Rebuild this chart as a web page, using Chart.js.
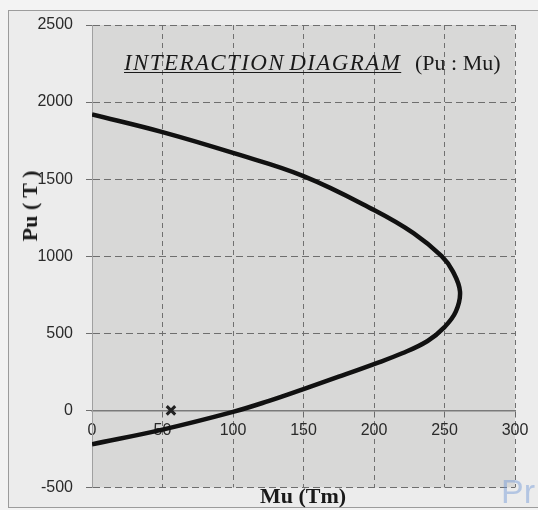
<!DOCTYPE html>
<html>
<head>
<meta charset="utf-8">
<script src="https://cdn.jsdelivr.net/npm/chart.js@4"></script>
<style>
  html, body { margin: 0; padding: 0; }
  body { width: 538px; height: 510px; background: #f3f3f3; position: relative; overflow: hidden; }
  #frame { position: absolute; left: 8px; top: 10px; width: 560px; height: 496px; border: 1px solid #9c9c9c; background: #ececec; }
  #wrap { position: absolute; left: 0; top: 0; width: 538px; height: 510px; }
  .txt { position: absolute; font-family: "Liberation Serif", serif; font-size: 22px; line-height: 22px; color: #1a1a1a; white-space: nowrap; }
  #title { left: 124px; top: 52px; }
  #title .main { font-style: italic; font-size: 23px; text-decoration: underline; text-decoration-thickness: 1px; text-underline-offset: 2px; letter-spacing: 1.4px; word-spacing: -3px; }
  #title .sub { position: absolute; left: 291px; top: 0; }
  #ytitle { left: 29.5px; top: 206px; font-weight: bold; transform: translate(-50%, -50%) rotate(-90deg); }
  #xtitle { left: 303px; top: 485px; font-weight: bold; transform: translateX(-50%); }
  #pr { position: absolute; left: 501px; top: 474px; font-family: "Liberation Sans", sans-serif; font-size: 34px; line-height: 34px; color: rgba(110, 150, 215, 0.45); }
</style>
</head>
<body>
<div id="frame"></div>
<div id="wrap"><canvas id="myChart" width="538" height="510"></canvas></div>
<div class="txt" id="title"><span class="main">INTERACTION DIAGRAM</span><span class="sub">(Pu : Mu)</span></div>
<div class="txt" id="ytitle">Pu ( T )</div>
<div class="txt" id="xtitle">Mu (Tm)</div>
<div id="pr">Pr</div>
<script>
// interaction curve (Mu in Tm, Pu in T)
let muValues = [0, 50, 100, 150, 200, 228, 248, 256, 261, 258, 250, 238, 220, 200, 175, 150, 125, 100, 50, 0];
let puValues = [1920, 1805, 1670, 1520, 1300, 1150, 1000, 900, 770, 640, 540, 450, 370, 300, 218, 138, 60, -10, -125, -220];

// design point (x marker)
let markMu = [56];
let markPu = [0];

let xTickValues = [0, 50, 100, 150, 200, 250, 300];
let yTickValues = [-500, 0, 500, 1000, 1500, 2000, 2500];

let curve = muValues.map((m, i) => ({ x: m, y: puValues[i] }));
let marks = markMu.map((m, i) => ({ x: m, y: markPu[i] }));

let plotBg = {
    id: 'plotBg',
    beforeDraw(chart) {
        let a = chart.chartArea;
        let c = chart.ctx;
        c.save();
        c.fillStyle = '#d8d8d7';
        c.fillRect(a.left, a.top, a.right - a.left, a.bottom - a.top);
        c.restore();
    }
};

let ctx = document.getElementById('myChart').getContext('2d');

let myChart = new Chart(ctx, {
    type: 'scatter',
    data: {
        datasets: [{
            data: curve,
            showLine: true,
            borderColor: '#111',
            borderWidth: 4.5,
            pointRadius: 0,
            tension: 0.4
        }, {
            data: marks,
            pointStyle: 'crossRot',
            pointRadius: 6,
            borderColor: '#222',
            borderWidth: 3
        }]
    },
    options: {
        responsive: false,
        animation: false,
        layout: {
            padding: { top: 25, right: 23, bottom: 21, left: 0 }
        },
        plugins: {
            legend: { display: false },
            tooltip: { enabled: false }
        },
        scales: {
            x: {
                type: 'linear',
                min: 0,
                max: 300,
                position: { y: 0 },
                afterBuildTicks: (scale) => { scale.ticks = xTickValues.map(v => ({ value: v })); },
                afterFit: (scale) => { scale.height = 0; },
                ticks: {
                    padding: 5,
                    color: '#2a2a2a',
                    font: { family: 'Liberation Sans', size: 16 },
                    callback: (v) => String(v)
                },
                grid: {
                    color: '#707070',
                    lineWidth: 1,
                    tickLength: 6,
                    tickColor: '#6a6a6a'
                },
                border: {
                    color: '#7a7a7a',
                    width: 1.5,
                    dash: [5, 4]
                }
            },
            y: {
                type: 'linear',
                min: -500,
                max: 2500,
                afterBuildTicks: (scale) => { scale.ticks = yTickValues.map(v => ({ value: v })); },
                afterFit: (scale) => { scale.width = 92; },
                ticks: {
                    padding: 13,
                    color: '#2a2a2a',
                    font: { family: 'Liberation Sans', size: 16 },
                    callback: (v) => String(v)
                },
                grid: {
                    color: '#6e6e6e',
                    lineWidth: 1,
                    tickLength: 6
                },
                border: {
                    color: '#a0a0a0',
                    width: 1,
                    dash: [7, 4]
                }
            }
        }
    },
    plugins: [plotBg]
});
</script>
</body>
</html>
